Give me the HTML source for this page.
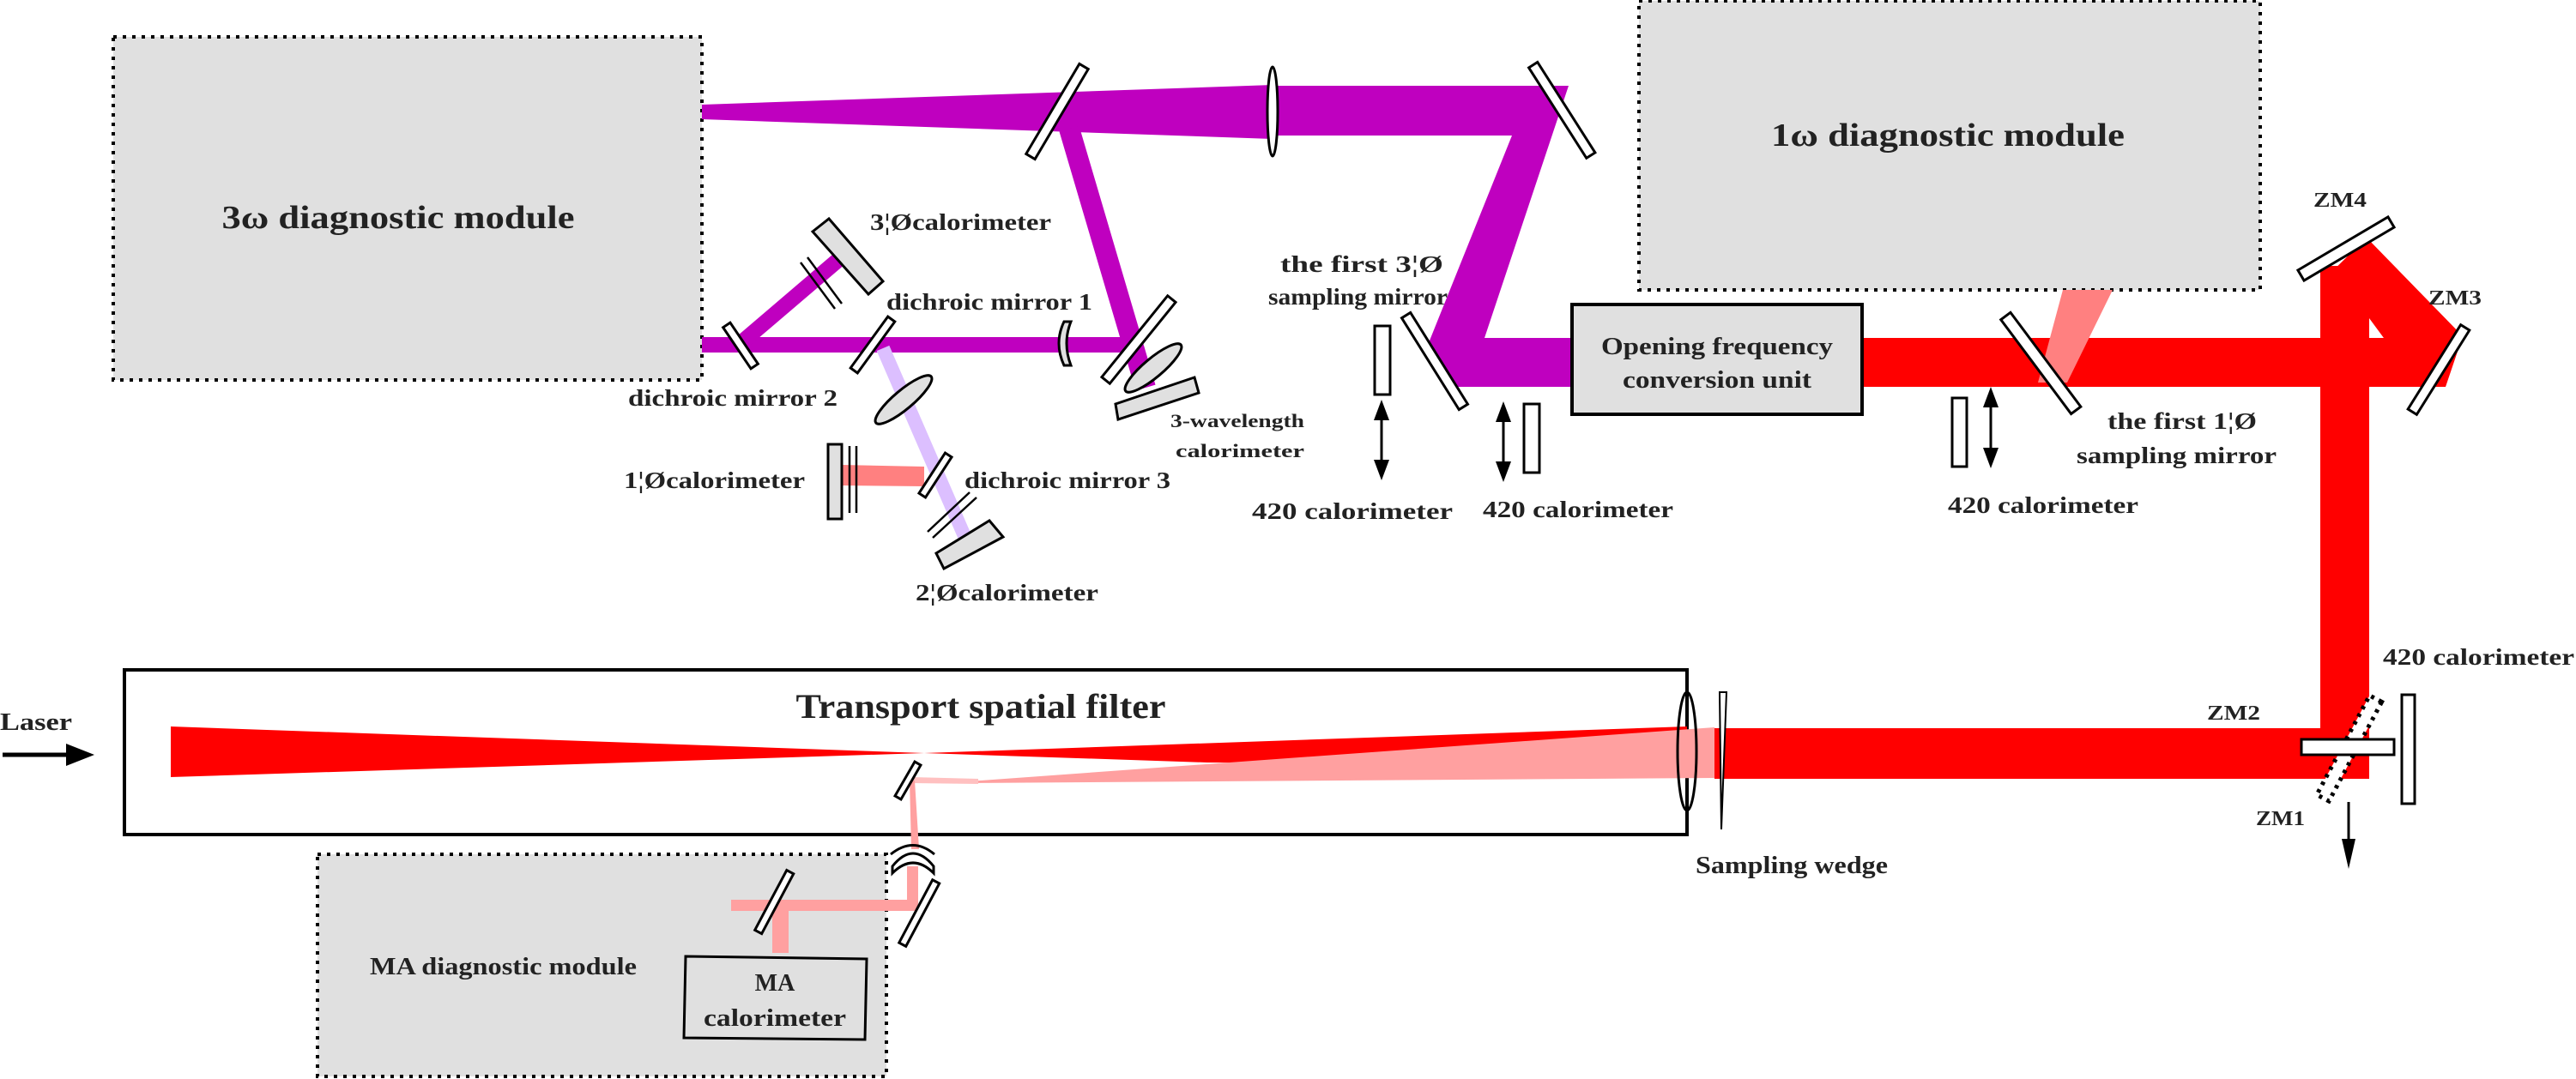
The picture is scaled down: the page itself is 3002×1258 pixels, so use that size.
<!DOCTYPE html>
<html><head><meta charset="utf-8"><style>
html,body{margin:0;padding:0;background:#fff;}
svg{display:block;}
text{font-family:"Liberation Serif",serif;font-weight:bold;fill:#222;}
</style></head><body>
<svg width="3002" height="1258" viewBox="0 0 3002 1258" xmlns="http://www.w3.org/2000/svg">
<!-- boxes -->
<rect x="132" y="43" width="686" height="400" fill="#e0e0e0" stroke="#000" stroke-width="4" stroke-dasharray="4 7"/>
<text x="464" y="266" font-size="38" text-anchor="middle" textLength="411" lengthAdjust="spacingAndGlyphs">3ω diagnostic module</text>
<rect x="1910" y="1" width="724" height="337" fill="#e0e0e0" stroke="#000" stroke-width="4" stroke-dasharray="4 7"/>
<text x="2270" y="170" font-size="38" text-anchor="middle" textLength="412" lengthAdjust="spacingAndGlyphs">1ω diagnostic module</text>
<rect x="370" y="996" width="663" height="259" fill="#e0e0e0" stroke="#000" stroke-width="4" stroke-dasharray="4 7"/>
<text x="431" y="1136" font-size="28" textLength="311" lengthAdjust="spacingAndGlyphs">MA diagnostic module</text>

<!-- purple beams -->
<polygon points="818,122 1483,99 1483,162 818,139" fill="#bf00bf"/>
<polygon points="1483,100 1828,100 1730,394 1832,394 1832,451 1682,451 1660,412 1762,158 1483,158" fill="#bf00bf"/>
<line x1="1246" y1="150" x2="1335" y2="452" stroke="#bf00bf" stroke-width="24"/>
<rect x="818" y="393" width="498" height="18" fill="#bf00bf"/>
<line x1="861" y1="402" x2="978" y2="302" stroke="#bf00bf" stroke-width="18"/>
<line x1="1029" y1="406" x2="1124" y2="625" stroke="#dcbfff" stroke-width="16"/>
<polygon points="981,542 1077,544 1077,567 981,566" fill="#ff8080"/>

<!-- red beams right -->
<rect x="2170" y="394" width="680" height="57" fill="#ff0000"/>
<rect x="2704" y="310" width="57" height="598" fill="#ff0000"/>
<polygon points="2704,330 2758,277 2870,392 2850,451 2820,451 2761,371 2761,394 2704,394" fill="#ff0000"/>
<polygon points="2404,338 2462,338 2409,446 2375,446" fill="#ff8080"/>
<rect x="1998" y="849" width="763" height="59" fill="#ff0000"/>

<!-- transport filter -->
<rect x="145" y="781" width="1821" height="192" fill="none" stroke="#000" stroke-width="4"/>
<text x="1143" y="837" font-size="40" text-anchor="middle" textLength="431" lengthAdjust="spacingAndGlyphs">Transport spatial filter</text>
<polygon points="199,847 1077,878 199,906" fill="#ff0000"/>
<polygon points="1077,878 1966,847 1966,892 1407,889" fill="#ff0000"/>
<polygon points="1129,911 1998,848 1998,907 1129,913" fill="#ffa0a0"/>
<polygon points="1062,906 1140,908 1140,914 1062,913" fill="#ffc0c0"/>
<ellipse cx="1966" cy="876" rx="11" ry="69" fill="none" stroke="#000" stroke-width="3"/>
<polygon points="2004,807 2012,807 2006,967" fill="#fff" stroke="#000" stroke-width="2"/>
<text x="1976" y="1018" font-size="28" textLength="224" lengthAdjust="spacingAndGlyphs">Sampling wedge</text>

<!-- laser arrow -->
<text x="0" y="851" font-size="28" textLength="84" lengthAdjust="spacingAndGlyphs">Laser</text>
<line x1="3" y1="880" x2="80" y2="880" stroke="#000" stroke-width="5"/>
<polygon points="77,867 110,880 77,893" fill="#000"/>

<!-- MA pink path -->
<polygon points="1060,910 1066,910 1071,990 1062,990" fill="#ffa0a0"/>
<rect x="1057" y="1010" width="13" height="52" fill="#ffa0a0"/>
<rect x="852" y="1049" width="218" height="13" fill="#ffa0a0"/>
<rect x="900" y="1062" width="19" height="49" fill="#ffa0a0"/>
<path d="M1040,1010 Q1064,980 1088,1010 L1088,1018 Q1064,994 1040,1018 Z" fill="#fff" stroke="#000" stroke-width="3"/>
<path d="M1038,996 Q1064,975 1089,996" fill="none" stroke="#000" stroke-width="3"/>
<polygon points="799,1115 1010,1118 1008,1212 797,1210" fill="#e0e0e0" stroke="#000" stroke-width="3"/>
<text x="903" y="1155" font-size="28" text-anchor="middle">MA</text>
<text x="903" y="1196" font-size="28" text-anchor="middle" textLength="166" lengthAdjust="spacingAndGlyphs">calorimeter</text>

<!-- mirrors (white) -->
<g fill="#fff" stroke="#000" stroke-width="3">
<rect x="-61" y="-6" width="122" height="12" transform="translate(1232,130) rotate(120.6)"/>
<rect x="-62" y="-6" width="125" height="12" transform="translate(1820,128) rotate(57.5)"/>
<rect x="-63" y="-6" width="126" height="12" transform="translate(1672,421) rotate(58)"/>
<rect x="-68" y="-7" width="137" height="14" transform="translate(2378,423) rotate(53.3)"/>
<rect x="-61" y="-7" width="122" height="14" transform="translate(2734,290) rotate(149.4)"/>
<rect x="-58" y="-6" width="116" height="12" transform="translate(2842,431) rotate(122)"/>
<rect x="-29" y="-5" width="58" height="10" transform="translate(863,403) rotate(56)"/>
<rect x="-37" y="-5" width="74" height="10" transform="translate(1017,402) rotate(126)"/>
<rect x="-61" y="-6" width="122" height="12" transform="translate(1327,396) rotate(129)"/>
<rect x="-28" y="-4.5" width="56" height="9" transform="translate(1090,554) rotate(123)"/>
<rect x="-23" y="-4" width="46" height="8" transform="translate(1058,910) rotate(120)"/>
<rect x="-40" y="-4.5" width="79" height="9" transform="translate(902,1052) rotate(118)"/>
<rect x="-42" y="-4.5" width="83" height="9" transform="translate(1071,1065) rotate(118)"/>
<ellipse cx="1483" cy="130" rx="6" ry="52"/>
</g>
<!-- ZM1 / ZM2 -->
<rect x="-65" y="-8" width="131" height="16" transform="translate(2738,872) rotate(118)" fill="#fff" stroke="#000" stroke-width="5" stroke-dasharray="4 6"/>
<rect x="2682" y="862" width="108" height="18" fill="#fff" stroke="#000" stroke-width="3"/>
<rect x="2799" y="810" width="15" height="127" fill="#fff" stroke="#000" stroke-width="3"/>
<line x1="2737" y1="935" x2="2737" y2="985" stroke="#000" stroke-width="3"/>
<polygon points="2729,978 2745,978 2737,1013" fill="#000"/>

<!-- gray calorimeters -->
<g fill="#e0e0e0" stroke="#000" stroke-width="3">
<polygon points="947,270 966,255 1029,328 1012,343"/>
<polygon points="1300,471 1392,440 1397,458 1303,489"/>
<polygon points="1091,645 1153,607 1169,626 1100,663"/>
<rect x="965" y="518" width="16" height="87"/>
<ellipse cx="1344" cy="429" rx="42" ry="11" transform="rotate(-40 1344 429)"/>
<ellipse cx="1053" cy="466" rx="42" ry="11" transform="rotate(-40 1053 466)"/>
<path d="M1240,375 Q1228,400 1240,426 L1248,426 Q1238,400 1248,375 Z"/>
</g>
<g stroke="#000" stroke-width="2.5">
<line x1="933" y1="306" x2="973" y2="360"/><line x1="941" y1="300" x2="981" y2="354"/>
<line x1="1081" y1="620" x2="1130" y2="574"/><line x1="1087" y1="627" x2="1138" y2="580"/>
<line x1="990" y1="520" x2="990" y2="598"/><line x1="998" y1="520" x2="998" y2="598"/>
</g>

<!-- sampling calorimeters + arrows -->
<g fill="#fff" stroke="#000" stroke-width="3">
<rect x="1602" y="380" width="18" height="80"/>
<rect x="1776" y="471" width="18" height="80"/>
<rect x="2275" y="464" width="17" height="80"/>
</g>
<g stroke="#000" stroke-width="3">
<line x1="1610" y1="475" x2="1610" y2="550"/>
<line x1="1752" y1="478" x2="1752" y2="552"/>
<line x1="2320" y1="461" x2="2320" y2="536"/>
</g>
<g fill="#000">
<polygon points="1610,466 1601,490 1619,490"/><polygon points="1610,560 1601,536 1619,536"/>
<polygon points="1752,468 1743,492 1761,492"/><polygon points="1752,562 1743,538 1761,538"/>
<polygon points="2320,451 2311,475 2329,475"/><polygon points="2320,546 2311,522 2329,522"/>
</g>

<!-- conversion unit -->
<rect x="1832" y="355" width="338" height="128" fill="#e0e0e0" stroke="#000" stroke-width="4"/>
<text x="2001" y="413" font-size="28" text-anchor="middle" textLength="270" lengthAdjust="spacingAndGlyphs">Opening frequency</text>
<text x="2001" y="452" font-size="28" text-anchor="middle" textLength="220" lengthAdjust="spacingAndGlyphs">conversion unit</text>

<!-- labels -->
<g font-size="27">
<text x="1014" y="268" textLength="211" lengthAdjust="spacingAndGlyphs">3¦Øcalorimeter</text>
<text x="1033" y="361" textLength="240" lengthAdjust="spacingAndGlyphs">dichroic mirror 1</text>
<text x="732" y="473" textLength="244" lengthAdjust="spacingAndGlyphs">dichroic mirror 2</text>
<text x="1124" y="569" textLength="240" lengthAdjust="spacingAndGlyphs">dichroic mirror 3</text>
<text x="727" y="569" textLength="211" lengthAdjust="spacingAndGlyphs">1¦Øcalorimeter</text>
<text x="1067" y="700" textLength="213" lengthAdjust="spacingAndGlyphs">2¦Øcalorimeter</text>
<text x="1364" y="498" font-size="22" textLength="156" lengthAdjust="spacingAndGlyphs">3-wavelength</text>
<text x="1370" y="533" font-size="22" textLength="150" lengthAdjust="spacingAndGlyphs">calorimeter</text>
<text x="1492" y="317" textLength="190" lengthAdjust="spacingAndGlyphs">the first 3¦Ø</text>
<text x="1478" y="355" textLength="209" lengthAdjust="spacingAndGlyphs">sampling mirror</text>
<text x="1459" y="605" textLength="234" lengthAdjust="spacingAndGlyphs">420 calorimeter</text>
<text x="1728" y="603" textLength="222" lengthAdjust="spacingAndGlyphs">420 calorimeter</text>
<text x="2270" y="598" textLength="222" lengthAdjust="spacingAndGlyphs">420 calorimeter</text>
<text x="2456" y="500" textLength="174" lengthAdjust="spacingAndGlyphs">the first 1¦Ø</text>
<text x="2420" y="540" textLength="233" lengthAdjust="spacingAndGlyphs">sampling mirror</text>
<text x="2696" y="241" font-size="24" textLength="62" lengthAdjust="spacingAndGlyphs">ZM4</text>
<text x="2830" y="355" font-size="24" textLength="62" lengthAdjust="spacingAndGlyphs">ZM3</text>
<text x="2572" y="839" font-size="24" textLength="62" lengthAdjust="spacingAndGlyphs">ZM2</text>
<text x="2629" y="962" font-size="24" textLength="57" lengthAdjust="spacingAndGlyphs">ZM1</text>
<text x="2777" y="775" textLength="223" lengthAdjust="spacingAndGlyphs">420 calorimeter</text>
</g>
</svg>
</body></html>
